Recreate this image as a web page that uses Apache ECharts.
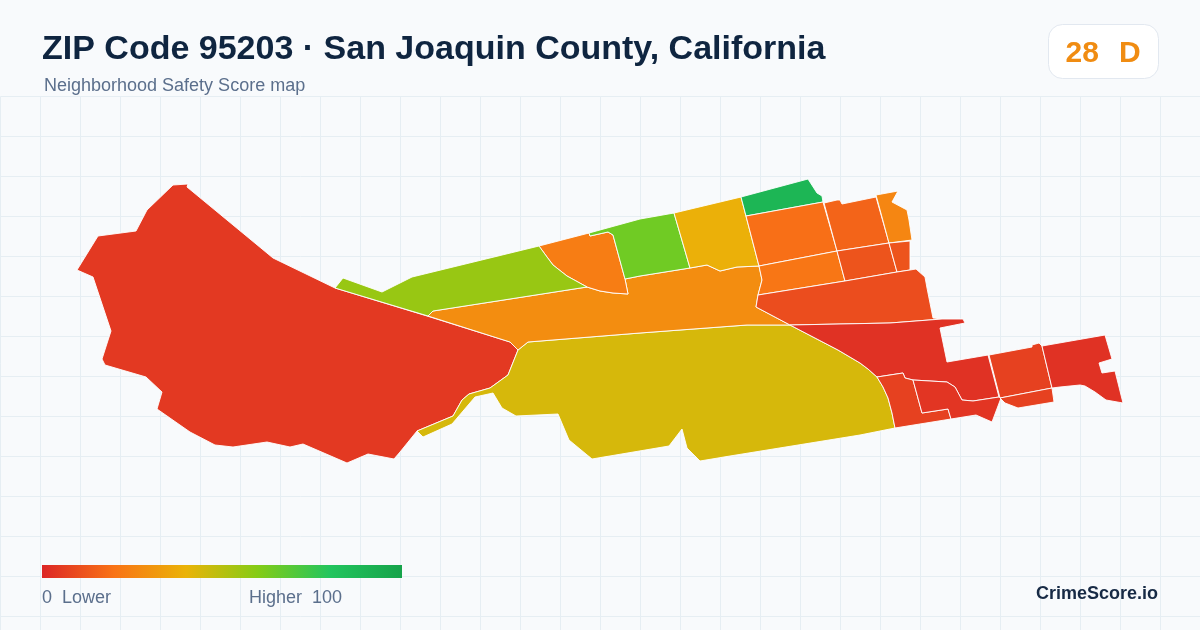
<!DOCTYPE html>
<html><head><meta charset="utf-8">
<style>html,body{margin:0;padding:0;background:#f8fafc}#c{width:1200px;height:630px}</style>
<script src="https://cdn.jsdelivr.net/npm/echarts@6/dist/echarts.min.js"></script>
</head><body><div id="c"></div>
<script>
const titleText = 'ZIP Code 95203 · San Joaquin County, California';
const subtitleText = 'Neighborhood Safety Score map';
const overallScore = '28';
const overallGrade = 'D';
const brandText = 'CrimeScore.io';
const legendLow = '0  Lower';
const legendHigh = 'Higher  100';
const scaleColors = ['#dc2626','#f97316','#eab308','#84cc16','#22c55e','#16a34a'];
const areaNames  = ['West','SouthCentral','Central','ArcNorth','NorthWest','NorthA','NorthB','NorthC','NorthD','NorthE','NorthF','MidA','MidB','MidC','EastA','EastB','EastC','EastD','FarA','FarB','FarC'];
const areaScores = [5,44,28,23,56,64,39,89,19,16,26,21,12,12,10,3,7,4,7,7,3];
const areaOutlines = [
 [[173,185],[188,184],[187,187],[273,258],[335,288],[427,316],[510,342],[518,350],[508,375],[490,388],[469,394],[462,400],[453,416],[417,431],[400,452],[394,459],[368,454],[347,463],[303,444],[290,447],[267,442],[233,447],[215,445],[190,432],[157,409],[162,392],[146,377],[105,365],[102,359],[111,331],[93,277],[77,270],[98,236],[136,231],[147,210]],
 [[518,350],[528,342],[640,333],[747,325],[790,325],[838,350],[860,363],[868,369],[877,377],[883,387],[888,398],[892,413],[895,428],[860,435],[730,456],[700,461],[687,448],[682,429],[669,446],[592,459],[569,440],[558,414],[516,416],[502,408],[493,393],[475,397],[452,424],[423,437],[417,431],[453,416],[462,400],[469,394],[490,388],[508,375]],
 [[428,316],[433,311],[587,287],[600,291],[613,293],[628,294],[625,279],[640,276],[690,268],[707,265],[720,271],[737,267],[759,266],[762,280],[758,295],[756,307],[790,325],[747,325],[640,333],[528,342],[518,350],[510,342]],
 [[539,246],[589,233],[590,236],[608,232],[613,235],[625,279],[628,294],[613,293],[600,291],[587,287],[567,276],[553,265],[547,257]],
 [[335,288],[343,278],[382,292],[412,277],[539,246],[547,257],[553,265],[567,276],[587,287],[433,311],[428,316]],
 [[589,233],[640,219],[674,213],[690,268],[640,276],[625,279],[613,235],[608,232],[590,236]],
 [[674,213],[741,197],[759,266],[737,267],[720,271],[707,265],[690,268]],
 [[741,197],[808,179],[817,193],[822,196],[823,202],[746,216]],
 [[746,216],[823,202],[824,203],[837,251],[759,266]],
 [[824,203],[837,200],[840,200],[842,204],[876,197],[889,243],[837,251]],
 [[876,195],[898,191],[892,202],[907,210],[909,220],[912,240],[889,243]],
 [[759,266],[837,251],[845,281],[758,295],[762,280]],
 [[837,251],[889,243],[897,272],[845,281]],
 [[889,243],[910,241],[910,270],[897,272]],
 [[758,295],[845,281],[897,272],[910,270],[916,269],[925,277],[927,288],[933,318],[942,319],[890,323],[790,325],[756,307]],
 [[790,325],[890,323],[942,319],[963,319],[965,323],[940,328],[947,362],[988,355],[999,397],[973,401],[962,400],[955,387],[947,382],[913,380],[905,378],[903,373],[877,377],[868,369],[860,363],[838,350]],
 [[877,377],[903,373],[905,378],[913,380],[922,413],[948,409],[951,419],[895,428],[892,413],[888,398],[883,387]],
 [[913,380],[947,382],[955,387],[962,400],[973,401],[999,397],[1001,398],[992,422],[976,415],[951,419],[948,409],[922,413]],
 [[989,355],[1032,347],[1032,345],[1039,343],[1042,346],[1052,388],[1000,398]],
 [[1000,398],[1052,388],[1054,402],[1018,408],[1005,403]],
 [[1042,346],[1105,335],[1112,359],[1099,363],[1102,373],[1115,371],[1123,403],[1106,400],[1095,392],[1085,386],[1080,385],[1060,387],[1052,388]]
];
const geoJson = {type:'FeatureCollection',features:areaNames.map((n,i)=>({type:'Feature',properties:{name:n},
  geometry:{type:'Polygon',coordinates:[areaOutlines[i].map(p=>[p[0],-p[1]])]}}))};
echarts.registerMap('zip95203', geoJson);
const xs = areaOutlines.flat().map(p=>p[0]), ys = areaOutlines.flat().map(p=>p[1]);
const x0=Math.min(...xs), x1=Math.max(...xs), y0=Math.min(...ys), y1=Math.max(...ys);
const chart = echarts.init(document.getElementById('c'), null, {renderer:'canvas'});
const gridStyle = {show:true,lineStyle:{color:'#e6eef3',width:1}};
const hidden = {axisLine:{show:false},axisTick:{show:false},axisLabel:{show:false}};
const font = 'Liberation Sans';
const legendStops = scaleColors.map((c,i)=>({offset:i/(scaleColors.length-1),color:c}));
chart.setOption({
  animation:false,
  backgroundColor:'#f8fafc',
  grid:{left:0.5,top:96.5,width:1199.5,height:533.5,show:false,outerBoundsMode:'none'},
  xAxis:{type:'value',min:0,max:1199.5,interval:40,splitLine:gridStyle,showMinLine:false,showMaxLine:false,...hidden},
  yAxis:{type:'value',inverse:true,min:0,max:533.5,interval:40,splitLine:gridStyle,showMaxLine:false,...hidden},
  visualMap:{type:'continuous',show:false,min:0,max:100,seriesIndex:0,inRange:{color:scaleColors}},
  series:[{type:'map',map:'zip95203',left:x0,top:y0,width:x1-x0,height:y1-y0,aspectScale:1,roam:false,silent:true,
    label:{show:false},itemStyle:{borderColor:'#ffffff',borderWidth:0.9},emphasis:{disabled:true},select:{disabled:true},
    data:areaNames.map((n,i)=>({name:n,value:areaScores[i]}))}],
  graphic:[
    {type:'text',left:42,top:33,z:10,style:{text:titleText,font:'bold 34px "'+font+'"',fill:'#0f2540'}},
    {type:'text',left:44,top:77,z:10,style:{text:subtitleText,font:'18px "'+font+'"',fill:'#5b6f8c'}},
    {type:'rect',left:1048,top:24,z:10,shape:{width:110,height:54,r:14},style:{fill:'#ffffff',stroke:'#e2e8f0',lineWidth:1}},
    {type:'text',left:1065.5,top:39,z:11,style:{text:overallScore,font:'bold 30px "'+font+'"',fill:'#f08c12'}},
    {type:'text',left:1119,top:39,z:11,style:{text:overallGrade,font:'bold 30px "'+font+'"',fill:'#f08c12'}},
    {type:'rect',left:42,top:565,z:10,shape:{width:360,height:13},style:{fill:new echarts.graphic.LinearGradient(0,0,1,0,legendStops)}},
    {type:'text',left:42,top:589,z:10,style:{text:legendLow,font:'18px "'+font+'"',fill:'#5b6f8c'}},
    {type:'text',left:249,top:589,z:10,style:{text:legendHigh,font:'18px "'+font+'"',fill:'#5b6f8c'}},
    {type:'text',right:42,top:585,z:10,style:{text:brandText,font:'bold 18px "'+font+'"',fill:'#172a45'}}
  ]
});
</script></body></html>
